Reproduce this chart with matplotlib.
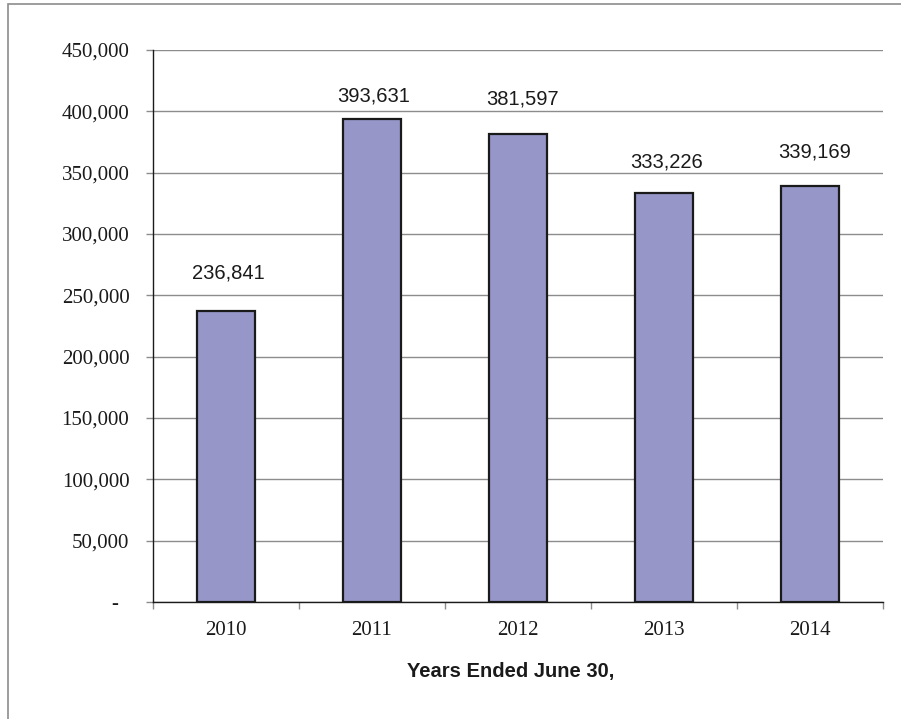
import matplotlib.pyplot as plt
from matplotlib.patches import Rectangle
from matplotlib.ticker import FuncFormatter

years = ['2010', '2011', '2012', '2013', '2014']
values = [236841, 393631, 381597, 333226, 339169]
y_ticks = [0, 50000, 100000, 150000, 200000, 250000, 300000, 350000, 400000, 450000]

# hand-placed data labels (offset in points from the bar top)
label_dx = [1.5, 1.5, 3.5, 2.0, 3.5]
label_dy = [28, 16.5, 25, 22.5, 24.5]

serif = 'Liberation Serif'
sans = 'Liberation Sans'
ink = '#1a1a1a'
grey = '#8c8c8c'

fig = plt.figure(figsize=(9.01, 7.19), dpi=100)
ax = fig.add_axes([153 / 901, 1 - 602 / 719, 730 / 901, 552 / 719])

# outer frame, runs off the right and bottom edge
fig.patches.append(Rectangle((8 / 901, -0.05), 1.2, 1 - 4 / 719 + 0.05,
                             transform=fig.transFigure, fill=False,
                             edgecolor=grey, linewidth=1.2))

x = list(range(len(years)))
bars = ax.bar(x, values, width=0.4, color='#9696c9', edgecolor=ink,
              linewidth=1.6, zorder=3)

for b, v, dx, dy in zip(bars, values, label_dx, label_dy):
    ax.annotate(f'{v:,}', xy=(b.get_x() + b.get_width() / 2, v),
                xytext=(dx, dy), textcoords='offset points',
                ha='center', va='center', fontsize=14.5, family=sans,
                color=ink)

ax.set_xlim(-0.5, len(years) - 0.5)
ax.set_ylim(0, 450000)
ax.set_yticks(y_ticks)
# accounting style: zero shows as a dash
ax.yaxis.set_major_formatter(FuncFormatter(lambda v, p: '-  ' if v == 0 else f'{int(v):,}'))
ax.yaxis.grid(True, color=grey, linewidth=1.0, zorder=0)
ax.set_axisbelow(True)

# category boundaries carry the x ticks, labels sit in between
ax.set_xticks([i - 0.5 for i in range(len(years) + 1)])
ax.set_xticklabels([])
ax.set_xticks(x, minor=True)
ax.set_xticklabels(years, minor=True, fontsize=15, family=serif, color=ink)
ax.tick_params(axis='x', which='minor', length=0, pad=14)
ax.tick_params(axis='x', which='major', length=5, color=grey, width=1)
ax.tick_params(axis='y', length=5, color=grey, width=1, pad=12,
               labelsize=15, labelcolor=ink)
for lab in ax.get_yticklabels():
    lab.set_family(serif)

for s in ['top', 'right']:
    ax.spines[s].set_visible(False)
for s in ['left', 'bottom']:
    ax.spines[s].set_color(ink)
    ax.spines[s].set_linewidth(1.0)

ax.set_xlabel('Years Ended June 30,', fontsize=14.5, fontweight='bold',
              family=sans, color=ink)
ax.xaxis.set_label_coords(0.49, -0.126)
ax.xaxis.label.set_va('center')

fig.savefig('out.png', dpi=100)
